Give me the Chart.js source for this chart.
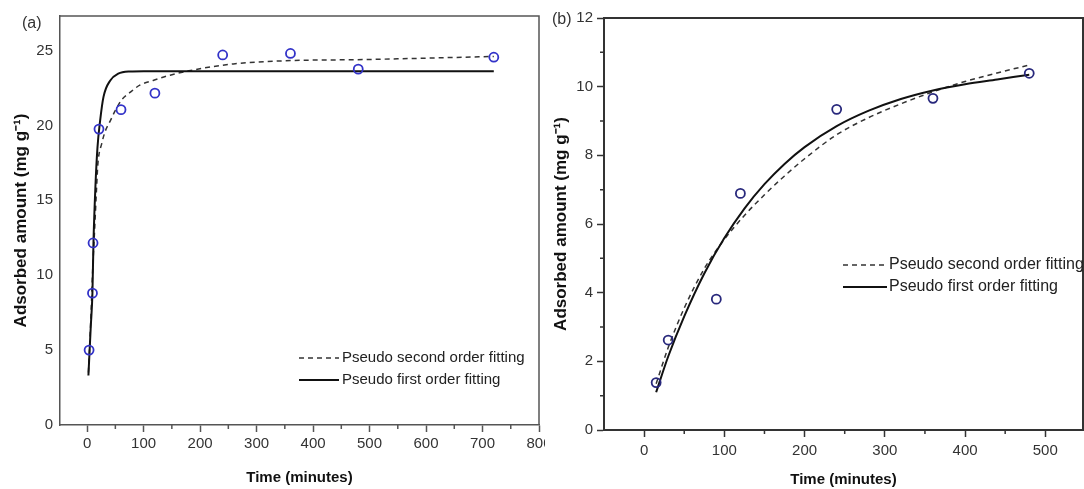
<!DOCTYPE html>
<html>
<head>
<meta charset="utf-8">
<script src="https://cdn.jsdelivr.net/npm/chart.js@4.4.1/dist/chart.umd.min.js"></script>
<style>
  html, body { margin: 0; padding: 0; background: #fff; }
  #wrap { position: relative; width: 1084px; height: 489px; overflow: hidden; }
  #chartA { position: absolute; left: 0; top: 0; }
  #chartB { position: absolute; left: 545px; top: 0; }
</style>
</head>
<body>
<div id="wrap">
  <canvas id="chartA" width="545" height="489"></canvas>
  <canvas id="chartB" width="539" height="489"></canvas>
</div>
<script>
// ---- panel (a) ----
const timeA = [3.5, 9.5, 10.5, 21, 60, 120, 240, 360, 480, 720];
const amountA = [5.0, 8.8, 12.15, 19.75, 21.05, 22.15, 24.7, 24.8, 23.75, 24.55];
// fitted curves
const firstTimeA = [2.3, 6.5, 9.4, 11.2, 14.7, 18.3, 23, 29, 41, 55, 76, 100, 200, 300, 400, 500, 600, 720];
const firstAmountA = [3.3, 6.6, 8.8, 12.1, 15.9, 18.5, 20.3, 21.9, 23.0, 23.45, 23.6, 23.62, 23.62, 23.62, 23.62, 23.62, 23.62, 23.62];
const secondTimeA = [2.3, 6.5, 10, 13, 17, 19, 26, 32, 41, 50, 61, 76, 94, 117, 147, 188, 259, 342, 500, 720];
const secondAmountA = [3.5, 7.0, 10.5, 12.8, 16.0, 17.4, 18.8, 19.6, 20.3, 21.0, 21.7, 22.2, 22.7, 23.0, 23.35, 23.7, 24.1, 24.3, 24.4, 24.6];
const xTicksA = [0, 100, 200, 300, 400, 500, 600, 700, 800];
const xMinorA = [50, 150, 250, 350, 450, 550, 650, 750];
const yTicksA = [0, 5, 10, 15, 20, 25];

// ---- panel (b) ----
const timeB = [15, 30, 90, 120, 240, 360, 480];
const amountB = [1.38, 2.62, 3.81, 6.89, 9.34, 9.66, 10.39];
const curveTimeB = [15, 30, 50, 75, 100, 125, 150, 175, 200, 240, 280, 320, 360, 400, 440, 480];
const firstAmountB = [1.1, 2.14, 3.31, 4.56, 5.59, 6.45, 7.16, 7.75, 8.24, 8.85, 9.30, 9.64, 9.89, 10.07, 10.21, 10.35];
const secondAmountB = [1.35, 2.4, 3.55, 4.7, 5.55, 6.25, 6.85, 7.4, 7.9, 8.6, 9.1, 9.5, 9.85, 10.15, 10.4, 10.63];
const xTicksB = [0, 100, 200, 300, 400, 500];
const xMinorB = [50, 150, 250, 350, 450];
const yTicksB = [0, 2, 4, 6, 8, 10, 12];
const yMinorB = [1, 3, 5, 7, 9, 11];

const FAMILY = '"Liberation Sans", Arial, sans-serif';
const xTitle = 'Time (minutes)';
const yTitle = 'Adsorbed amount (mg g\u207B\u00B9)';
const secondLabel = 'Pseudo second order fitting';
const firstLabel = 'Pseudo first order fitting';

const toXY = (xs, ys) => xs.map((x, i) => ({ x: x, y: ys[i] }));

// closes the box and draws the short minor ticks
const frameBox = {
  id: 'frameBox',
  afterDraw(chart, args, opts) {
    const { ctx, chartArea: a } = chart;
    ctx.save();
    ctx.strokeStyle = opts.color;
    ctx.lineWidth = opts.width;
    ctx.beginPath();
    ctx.moveTo(a.left, a.top);
    ctx.lineTo(a.right, a.top);
    ctx.lineTo(a.right, a.bottom);
    ctx.stroke();
    ctx.lineWidth = opts.tickWidth;
    ctx.beginPath();
    (opts.xMinor || []).forEach(v => {
      const px = chart.scales.x.getPixelForValue(v);
      ctx.moveTo(px, a.bottom);
      ctx.lineTo(px, a.bottom + opts.minorLen);
    });
    (opts.yMinor || []).forEach(v => {
      const py = chart.scales.y.getPixelForValue(v);
      ctx.moveTo(a.left, py);
      ctx.lineTo(a.left - opts.minorLen, py);
    });
    ctx.stroke();
    ctx.restore();
  }
};

// panel letter and the legend inside the plot
const annot = {
  id: 'annot',
  afterDraw(chart, args, opts) {
    const { ctx } = chart;
    ctx.save();
    ctx.fillStyle = '#333';
    ctx.font = opts.panelFont + ' ' + FAMILY;
    ctx.textBaseline = 'middle';
    ctx.textAlign = 'left';
    ctx.fillText(opts.panel, opts.panelX, opts.panelY);

    ctx.font = opts.legendFont + ' ' + FAMILY;
    opts.items.forEach((idx, row) => {
      const ds = chart.data.datasets[idx];
      const y = opts.legendY + row * opts.rowGap;
      ctx.strokeStyle = ds.borderColor;
      ctx.lineWidth = ds.borderWidth;
      ctx.setLineDash(ds.borderDash || []);
      ctx.beginPath();
      ctx.moveTo(opts.lineX0, y);
      ctx.lineTo(opts.lineX1, y);
      ctx.stroke();
      ctx.setLineDash([]);
      ctx.fillStyle = '#222';
      ctx.fillText(ds.label, opts.textX, y);
    });
    ctx.restore();
  }
};

function panel(canvasId, p) {
  return new Chart(document.getElementById(canvasId), {
    type: 'scatter',
    data: {
      datasets: [
        {
          label: 'Experimental',
          data: toXY(p.time, p.amount),
          showLine: false,
          pointStyle: 'circle',
          pointRadius: 4.5,
          pointBorderWidth: 1.8,
          pointBorderColor: p.pointColor,
          pointBackgroundColor: 'rgba(0,0,0,0)'
        },
        {
          label: firstLabel,
          data: toXY(p.firstTime, p.firstAmount),
          showLine: true,
          pointRadius: 0,
          borderColor: '#111',
          borderWidth: 2,
          cubicInterpolationMode: 'monotone'
        },
        {
          label: secondLabel,
          data: toXY(p.secondTime, p.secondAmount),
          showLine: true,
          pointRadius: 0,
          borderColor: '#333',
          borderWidth: 1.5,
          borderDash: [5, 4],
          cubicInterpolationMode: 'monotone'
        }
      ]
    },
    options: {
      responsive: false,
      animation: false,
      events: [],
      layout: { autoPadding: false, padding: { top: p.top, right: p.right, left: 0, bottom: 0 } },
      scales: {
        x: {
          type: 'linear',
          min: p.xMin,
          max: p.xMax,
          afterBuildTicks: s => { s.ticks = p.xTicks.map(v => ({ value: v })); },
          afterFit: s => { s.height = p.xHeight; s.paddingLeft = 0; s.paddingRight = 0; },
          grid: { display: true, drawOnChartArea: false, drawTicks: true, tickLength: 7, tickColor: p.axisColor, tickWidth: 1.5 },
          border: { display: true, color: p.axisColor, width: p.axisWidth },
          ticks: { padding: p.xPad, color: '#333', font: { size: 15, family: FAMILY }, maxRotation: 0, autoSkip: false },
          title: { display: true, text: xTitle, color: '#111', font: { size: 15, weight: 'bold', family: FAMILY }, padding: { top: 0, bottom: p.xTitlePad } }
        },
        y: {
          type: 'linear',
          min: p.yMin,
          max: p.yMax,
          afterBuildTicks: s => { s.ticks = p.yTicks.map(v => ({ value: v })); },
          afterFit: s => { s.width = p.yWidth; s.paddingTop = 0; s.paddingBottom = 0; },
          grid: { display: true, drawOnChartArea: false, drawTicks: p.yTickMarks, tickLength: 7, tickColor: p.axisColor, tickWidth: 1.5 },
          border: { display: true, color: p.axisColor, width: p.axisWidth },
          ticks: { padding: p.yPad, color: '#333', font: { size: 15, family: FAMILY }, autoSkip: false },
          title: { display: true, text: yTitle, color: '#111', font: { size: 17, weight: 'bold', family: FAMILY }, padding: { top: p.yTitlePad, bottom: 0 } }
        }
      },
      plugins: {
        legend: { display: false },
        tooltip: { enabled: false },
        frameBox: { color: p.axisColor, width: p.axisWidth, tickWidth: 1.5, minorLen: 4, xMinor: p.xMinor, yMinor: p.yMinor },
        annot: p.annot
      }
    },
    plugins: [frameBox, annot]
  });
}

panel('chartA', {
  time: timeA, amount: amountA,
  firstTime: firstTimeA, firstAmount: firstAmountA,
  secondTime: secondTimeA, secondAmount: secondAmountA,
  pointColor: '#3232c8',
  xMin: -48, xMax: 800, yMin: 0, yMax: 27.3,
  xTicks: xTicksA, yTicks: yTicksA, xMinor: xMinorA, yMinor: [],
  top: 16, right: 6, xHeight: 64, yWidth: 60,
  xPad: 3, yPad: 7, xTitlePad: 2, yTitlePad: 11, yTickMarks: false,
  axisColor: '#555', axisWidth: 1.5,
  annot: {
    panel: '(a)', panelX: 22, panelY: 23.5, panelFont: '16px',
    legendFont: '15px', items: [2, 1], legendY: 358, rowGap: 22,
    lineX0: 299, lineX1: 339, textX: 342
  }
});

panel('chartB', {
  time: timeB, amount: amountB,
  firstTime: curveTimeB, firstAmount: firstAmountB,
  secondTime: curveTimeB, secondAmount: secondAmountB,
  pointColor: '#28287c',
  xMin: -50, xMax: 547, yMin: 0, yMax: 12,
  xTicks: xTicksB, yTicks: yTicksB, xMinor: xMinorB, yMinor: yMinorB,
  top: 18, right: 1, xHeight: 59, yWidth: 59,
  xPad: 5, yPad: 4, xTitlePad: 0, yTitlePad: 6, yTickMarks: true,
  axisColor: '#333', axisWidth: 2,
  annot: {
    panel: '(b)', panelX: 7, panelY: 19.5, panelFont: '16px',
    legendFont: '16px', items: [2, 1], legendY: 265, rowGap: 22,
    lineX0: 298, lineX1: 342, textX: 344
  }
});
</script>
</body>
</html>
